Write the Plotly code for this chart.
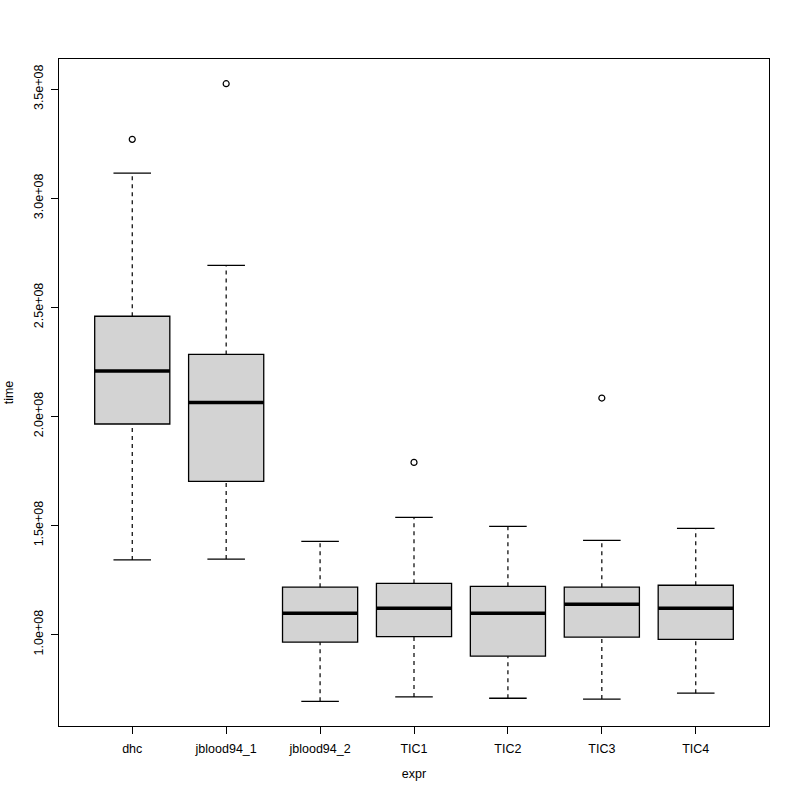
import plotly.graph_objects as go

categories = ["dhc", "jblood94_1", "jblood94_2", "TIC1", "TIC2", "TIC3", "TIC4"]
lower_whisker = [1.342e8, 1.346e8, 0.694e8, 0.714e8, 0.708e8, 0.704e8, 0.731e8]
q1 = [1.965e8, 1.702e8, 0.965e8, 0.990e8, 0.901e8, 0.988e8, 0.978e8]
median = [2.208e8, 2.064e8, 1.098e8, 1.120e8, 1.098e8, 1.139e8, 1.120e8]
q3 = [2.459e8, 2.284e8, 1.217e8, 1.235e8, 1.221e8, 1.217e8, 1.226e8]
upper_whisker = [3.115e8, 2.692e8, 1.427e8, 1.537e8, 1.496e8, 1.432e8, 1.487e8]
outlier_group = ["dhc", "jblood94_1", "TIC1", "TIC3"]
outlier_value = [3.270e8, 3.525e8, 1.789e8, 2.084e8]

y_tick_vals = [1.0e8, 1.5e8, 2.0e8, 2.5e8, 3.0e8, 3.5e8]
y_tick_text = ["1.0e+08", "1.5e+08", "2.0e+08", "2.5e+08", "3.0e+08", "3.5e+08"]

pos = list(range(1, len(categories) + 1))
box_w = 0.8
cap_w = box_w * 0.5
FONT = "Liberation Sans, Arial, sans-serif"

fig = go.Figure()

# dashed whiskers
wx, wy = [], []
for p, lo, a, b, hi in zip(pos, lower_whisker, q1, q3, upper_whisker):
    wx += [p, p, None, p, p, None]
    wy += [lo, a, None, b, hi, None]
fig.add_trace(go.Scatter(x=wx, y=wy, mode="lines",
                         line=dict(color="black", width=1.2, dash="4px,4px"),
                         hoverinfo="skip", showlegend=False))

# whisker caps
cx, cy = [], []
for p, lo, hi in zip(pos, lower_whisker, upper_whisker):
    cx += [p - cap_w / 2, p + cap_w / 2, None, p - cap_w / 2, p + cap_w / 2, None]
    cy += [lo, lo, None, hi, hi, None]
fig.add_trace(go.Scatter(x=cx, y=cy, mode="lines",
                         line=dict(color="black", width=1.3),
                         hoverinfo="skip", showlegend=False))

# boxes
fig.add_trace(go.Box(x=pos, q1=q1, median=median, q3=q3,
                     lowerfence=q1, upperfence=q3, width=box_w,
                     fillcolor="#D3D3D3", line=dict(color="black", width=1.3),
                     whiskerwidth=0, hoverinfo="skip", showlegend=False))

# thick medians
mx, my = [], []
for p, m in zip(pos, median):
    mx += [p - box_w / 2, p + box_w / 2, None]
    my += [m, m, None]
fig.add_trace(go.Scatter(x=mx, y=my, mode="lines",
                         line=dict(color="black", width=3.5),
                         hoverinfo="skip", showlegend=False))

# outliers
ox = [pos[categories.index(g)] for g in outlier_group]
fig.add_trace(go.Scatter(x=ox, y=outlier_value, mode="markers",
                         marker=dict(symbol="circle-open", size=6, color="black",
                                     line=dict(width=1.2)),
                         hoverinfo="skip", showlegend=False))

all_vals = lower_whisker + upper_whisker + outlier_value
ymin, ymax = min(all_vals), max(all_vals)
ext = (ymax - ymin) * 0.04
xext = (len(categories)) * 0.04

fig.update_layout(
    width=800, height=800,
    margin=dict(l=59, r=31, t=59, b=74),
    paper_bgcolor="white", plot_bgcolor="white",
    font=dict(family=FONT, size=12, color="black"),
    showlegend=False,
    xaxis=dict(range=[0.5 - xext, len(categories) + 0.5 + xext],
               tickvals=pos, ticktext=categories, automargin=False,
               ticks="outside", ticklen=7, tickcolor="black", tickwidth=1,
               showline=True, mirror=True, linecolor="black", linewidth=1.3,
               showgrid=False, zeroline=False, ticklabelstandoff=4,
               tickfont=dict(size=12.5),
               title=dict(text="expr", font=dict(size=12.5), standoff=14)),
    yaxis=dict(range=[ymin - ext, ymax + ext],
               tickvals=y_tick_vals, ticktext=y_tick_text, tickangle=-90,
               automargin=False, ticklabelstandoff=3,
               ticks="outside", ticklen=7, tickcolor="black", tickwidth=1,
               showline=True, mirror=True, linecolor="black", linewidth=1.3,
               showgrid=False, zeroline=False,
               tickfont=dict(size=12.5),
               title=dict(text="time", font=dict(size=12.5), standoff=15)),
)

fig.write_html("out.html", config={"displayModeBar": False},
               post_script="document.body.style.margin='0';")
